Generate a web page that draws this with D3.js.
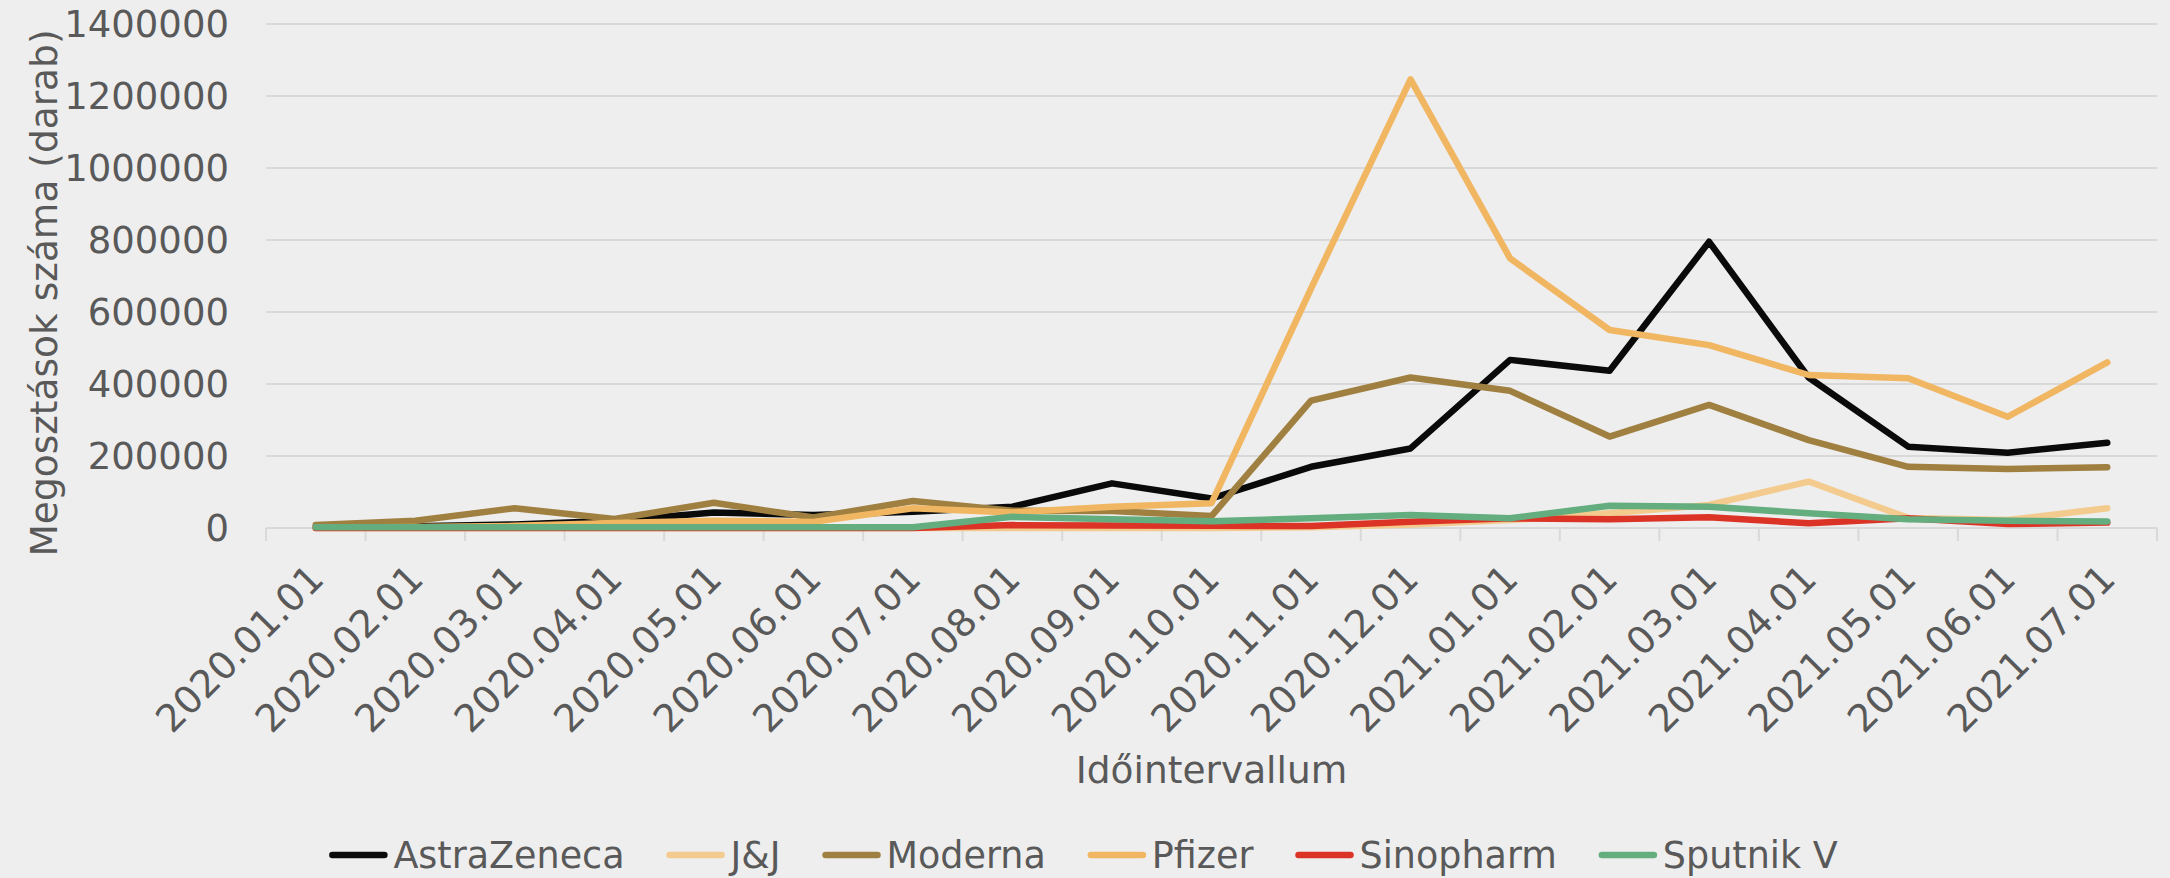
<!DOCTYPE html>
<html>
<head>
<meta charset="utf-8">
<script src="https://cdn.jsdelivr.net/npm/d3@7"></script>
<style>
  html, body { margin: 0; padding: 0; background: #eeeeee; }
  svg text { font-family: "DejaVu Sans", sans-serif; fill: #595959; }
</style>
</head>
<body>
<div id="chart"></div>
<script>
// categories (monthly)
var categories = ["2020.01.01", "2020.02.01", "2020.03.01", "2020.04.01", "2020.05.01", "2020.06.01",
  "2020.07.01", "2020.08.01", "2020.09.01", "2020.10.01", "2020.11.01", "2020.12.01",
  "2021.01.01", "2021.02.01", "2021.03.01", "2021.04.01", "2021.05.01", "2021.06.01", "2021.07.01"];

var astraZeneca = [3000, 5000, 10000, 20000, 43000, 36000, 45000, 59000, 124000, 82000, 170000, 221000, 467000, 437000, 795000, 418000, 226000, 209000, 237000];
var jj          = [0, 0, 0, 0, 0, 0, 0, 0, 0, 0, 2000, 10000, 22000, 41000, 64000, 129000, 28000, 22000, 55000];
var moderna     = [8000, 20000, 55000, 25000, 70000, 29000, 75000, 48000, 47000, 33000, 354000, 418000, 381000, 254000, 342000, 244000, 170000, 164000, 169000];
var pfizer      = [1000, 3000, 6000, 14000, 20000, 17000, 55000, 43000, 59000, 69000, 665000, 1246000, 749000, 550000, 508000, 425000, 416000, 309000, 460000];
var sinopharm   = [0, 0, 0, 0, 0, 0, 0, 8000, 7000, 6000, 5500, 17500, 27000, 24000, 30000, 13000, 27000, 11000, 15000];
var sputnik     = [2000, 2000, 2000, 2000, 2000, 2000, 2000, 31000, 24000, 19000, 27000, 36000, 27000, 62000, 59000, 41000, 24000, 20000, 18000];

var seriesNames = ["AstraZeneca", "J&J", "Moderna", "Pfizer", "Sinopharm", "Sputnik V"];
var seriesValues = [astraZeneca, jj, moderna, pfizer, sinopharm, sputnik];
var colors = ["#0a0a0a", "#f4cb8e", "#a08040", "#f0b662", "#dc3327", "#64ad7e"];
var yTicks = [0, 200000, 400000, 600000, 800000, 1000000, 1200000, 1400000];

var W = 2170, H = 878;
var margin = {top: 24, right: 13, bottom: 350, left: 266},
    width = W - margin.left - margin.right,
    height = H - margin.top - margin.bottom;

var svg = d3.select("#chart").append("svg")
    .attr("width", W)
    .attr("height", H);

svg.append("rect").attr("width", W).attr("height", H).attr("fill", "#eeeeee");

var g = svg.append("g")
    .attr("transform", "translate(" + margin.left + "," + margin.top + ")");

var x = d3.scaleBand().domain(categories).range([0, width]);
var y = d3.scaleLinear().domain([0, 1400000]).range([height, 0]);

// gridlines
g.append("g")
  .selectAll("line")
  .data(yTicks)
  .enter()
  .append("line")
    .attr("x1", 0).attr("x2", width)
    .attr("y1", d => y(d)).attr("y2", d => y(d))
    .attr("stroke", "#d9d9d9")
    .attr("stroke-width", 2);

// y tick labels
g.append("g")
  .selectAll("text")
  .data(yTicks)
  .enter()
  .append("text")
    .attr("x", -37)
    .attr("y", d => y(d))
    .attr("dy", "0.36em")
    .attr("text-anchor", "end")
    .style("font-size", "37px")
    .text(d => d);

// x tick marks at category boundaries
var bounds = categories.map(c => x(c)).concat([width]);
g.append("g")
  .selectAll("line")
  .data(bounds)
  .enter()
  .append("line")
    .attr("x1", d => d).attr("x2", d => d)
    .attr("y1", height).attr("y2", height + 13)
    .attr("stroke", "#d9d9d9")
    .attr("stroke-width", 2);

// x tick labels, rotated
g.append("g")
  .selectAll("text")
  .data(categories)
  .enter()
  .append("text")
    .attr("text-anchor", "end")
    .attr("transform", d => "translate(" + (x(d) + x.bandwidth() / 2 + 10) + "," + (height + 53) + ") rotate(-45)")
    .style("font-size", "38px")
    .text(d => d);

// lines
var line = d3.line()
    .x((d, i) => x(categories[i]) + x.bandwidth() / 2)
    .y(d => y(d));

g.append("g")
  .selectAll("path")
  .data(seriesValues)
  .enter()
  .append("path")
    .attr("d", d => line(d))
    .attr("fill", "none")
    .attr("stroke", (d, i) => colors[i])
    .attr("stroke-width", 6.5)
    .attr("stroke-linecap", "round")
    .attr("stroke-linejoin", "round");

// axis titles
svg.append("text")
    .attr("transform", "translate(57,293) rotate(-90)")
    .attr("text-anchor", "middle")
    .style("font-size", "37.5px")
    .text("Megosztások száma (darab)");

svg.append("text")
    .attr("x", margin.left + width / 2)
    .attr("y", 783)
    .attr("text-anchor", "middle")
    .style("font-size", "37.5px")
    .text("Időintervallum");

// legend
var legend = svg.append("g");
var items = legend.selectAll("g")
  .data(seriesNames)
  .enter()
  .append("g");
items.append("line")
    .attr("x1", 0).attr("x2", 52)
    .attr("y1", 0).attr("y2", 0)
    .attr("stroke", (d, i) => colors[i])
    .attr("stroke-width", 6.5)
    .attr("stroke-linecap", "round");
items.append("text")
    .attr("x", 61)
    .attr("dy", "0.36em")
    .style("font-size", "36.5px")
    .text(d => d);

var offs = [], cur = 0;
items.each(function(d, i) {
  offs.push(cur);
  cur += 61 + this.querySelector("text").getComputedTextLength() + 45;
});
var total = cur - 45;
var startX = W / 2 - total / 2;
items.attr("transform", (d, i) => "translate(" + (startX + offs[i]) + ",855)");
</script>
</body>
</html>
